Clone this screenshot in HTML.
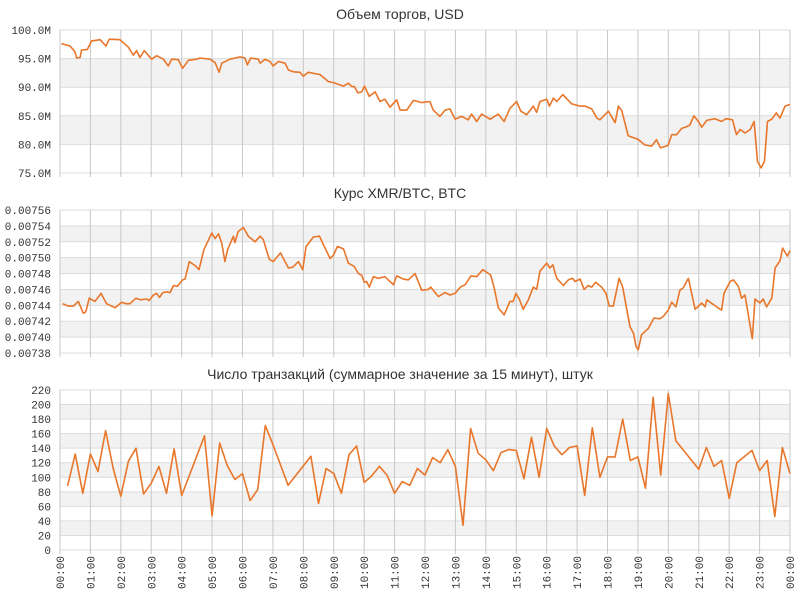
<!DOCTYPE html>
<html><head><meta charset="utf-8">
<style>
body{margin:0;background:#fff;}
svg{display:block;font-family:"Liberation Mono","DejaVu Sans Mono",monospace;}
.t{font-family:"Liberation Sans","DejaVu Sans",sans-serif;font-size:14px;fill:#333;}
.yl{font-size:11px;fill:#333;}
</style></head>
<body>
<svg id="c" width="800" height="600"></svg>
<script>
const xTicks=["00:00","01:00","02:00","03:00","04:00","05:00","06:00","07:00","08:00","09:00","10:00","11:00","12:00","13:00","14:00","15:00","16:00","17:00","18:00","19:00","20:00","21:00","22:00","23:00","00:00"];
const volTicks=["75.0M","80.0M","85.0M","90.0M","95.0M","100.0M"];
const volHours=[0.05,0.33,0.49,0.55,0.66,0.71,0.9,1.04,1.32,1.51,1.62,1.97,2.25,2.41,2.52,2.63,2.77,3.01,3.18,3.40,3.56,3.67,3.89,4.03,4.22,4.49,4.60,4.93,5.10,5.23,5.32,5.59,5.92,6.08,6.16,6.27,6.52,6.58,6.74,6.90,7.01,7.18,7.40,7.51,7.67,7.89,8.00,8.16,8.55,8.82,8.99,9.32,9.48,9.59,9.68,9.79,9.92,10.01,10.17,10.36,10.52,10.68,10.85,11.07,11.18,11.40,11.62,11.89,12.16,12.27,12.49,12.66,12.82,12.99,13.20,13.42,13.53,13.70,13.86,14.14,14.41,14.60,14.79,15.01,15.15,15.34,15.56,15.67,15.78,16.00,16.09,16.22,16.33,16.53,16.82,17.10,17.26,17.48,17.65,17.75,18.03,18.25,18.36,18.47,18.68,19.0,19.23,19.45,19.61,19.74,19.99,20.11,20.27,20.44,20.60,20.71,20.84,20.99,21.10,21.26,21.53,21.75,21.89,22.11,22.24,22.36,22.52,22.69,22.82,22.93,23.05,23.16,23.26,23.40,23.55,23.67,23.84,24.0];
const volValues=[97.6,97.2,96.2,95.1,95.2,96.5,96.6,98.1,98.3,97.2,98.4,98.3,97.0,95.6,96.4,95.2,96.4,94.9,95.5,94.9,93.7,94.9,94.8,93.3,94.7,94.9,95.1,94.9,94.3,92.6,94.2,94.9,95.3,95.1,93.9,95.1,94.9,94.2,94.9,94.5,93.7,94.5,94.2,93.0,92.7,92.6,91.9,92.6,92.2,91.0,90.8,90.2,90.7,90.1,90.1,89.0,89.2,90.2,88.4,89.2,87.5,87.9,86.5,87.8,86.0,86.0,87.7,87.3,87.5,86.0,84.9,86.0,86.2,84.4,84.9,84.3,85.3,84.0,85.3,84.4,85.3,84.0,86.3,87.5,85.8,85.2,86.7,85.6,87.5,87.9,86.7,88.1,87.5,88.7,87.1,86.7,86.7,86.2,84.6,84.3,85.8,83.8,86.7,85.9,81.5,80.9,79.9,79.7,80.8,79.4,79.8,81.7,81.7,82.8,83.1,83.4,85.0,84.0,83.0,84.2,84.5,84.0,84.5,84.3,81.7,82.6,82.0,82.6,84.0,77.0,75.9,77.0,84.0,84.4,85.5,84.6,86.7,87.0];
const rateTicks=["0.00738","0.00740","0.00742","0.00744","0.00746","0.00748","0.00750","0.00752","0.00754","0.00756"];
const rateHours=[0.09,0.27,0.44,0.60,0.77,0.85,0.96,1.15,1.35,1.53,1.70,1.81,2.03,2.17,2.30,2.50,2.63,2.85,2.93,3.07,3.18,3.27,3.38,3.51,3.62,3.73,3.86,4.03,4.11,4.25,4.44,4.57,4.73,4.99,5.10,5.21,5.32,5.42,5.51,5.70,5.75,5.86,6.03,6.19,6.41,6.58,6.68,6.88,7.01,7.25,7.51,7.65,7.84,7.98,8.09,8.33,8.53,8.64,8.88,8.99,9.12,9.32,9.48,9.67,9.81,9.92,10.0,10.08,10.17,10.30,10.47,10.68,10.96,11.07,11.29,11.45,11.67,11.89,12.11,12.19,12.44,12.66,12.82,12.99,13.16,13.32,13.51,13.70,13.90,14.16,14.27,14.41,14.60,14.79,14.90,14.99,15.10,15.23,15.40,15.56,15.67,15.78,16.00,16.11,16.20,16.33,16.55,16.71,16.85,16.93,17.10,17.23,17.37,17.48,17.61,17.81,17.95,18.06,18.19,18.38,18.50,18.74,18.85,18.94,19.01,19.12,19.34,19.53,19.72,19.83,20.00,20.11,20.25,20.38,20.49,20.66,20.88,21.10,21.21,21.26,21.48,21.59,21.75,21.83,22.03,22.14,22.30,22.41,22.52,22.76,22.85,23.01,23.12,23.23,23.40,23.51,23.67,23.76,23.91,24.0];
const rateValues=[744.2,743.9,743.9,744.5,743.0,743.2,744.9,744.5,745.5,744.2,743.9,743.7,744.4,744.2,744.2,744.9,744.7,744.8,744.6,745.3,745.5,745.0,745.6,745.7,745.6,746.5,746.4,747.2,747.3,749.5,749.0,748.5,751.0,753.1,752.4,753.0,751.8,749.5,751.0,752.7,751.9,753.3,753.8,752.7,752.0,752.7,752.3,749.8,749.5,750.6,748.7,748.8,749.5,748.5,751.4,752.6,752.7,751.8,749.9,750.3,751.4,751.1,749.3,748.9,748.0,747.8,746.9,747.0,746.3,747.6,747.4,747.6,746.6,747.7,747.3,747.2,748.0,745.9,746.0,746.3,745.1,745.6,745.3,745.5,746.3,746.6,747.7,747.6,748.5,747.8,746.3,743.7,742.8,744.5,744.5,745.5,744.8,743.5,744.7,746.3,746.0,748.3,749.3,748.7,749.1,747.4,746.5,747.2,747.4,747.0,747.3,746.0,746.5,746.3,746.9,746.3,745.5,743.9,743.9,747.4,746.3,741.3,740.5,738.8,738.4,740.3,741.1,742.4,742.3,742.6,743.4,744.4,743.8,745.9,746.2,747.4,743.5,744.3,743.8,744.7,744.1,743.8,743.4,745.5,747.0,747.2,746.4,744.9,745.3,739.8,744.8,744.3,744.8,743.8,744.9,748.7,749.6,751.2,750.2,750.9];
const txTicks=["0","20","40","60","80","100","120","140","160","180","200","220"];
const txHours=[0.25,0.5,0.75,1.0,1.25,1.5,1.75,2.0,2.25,2.5,2.75,3.0,3.25,3.5,3.75,4.0,4.75,5.0,5.25,5.5,5.75,6.0,6.25,6.5,6.75,7.0,7.5,8.25,8.5,8.75,9.0,9.25,9.5,9.75,10.0,10.25,10.5,10.75,11.0,11.25,11.5,11.75,12.0,12.25,12.5,12.75,13.0,13.25,13.5,13.75,14.0,14.25,14.5,14.75,15.0,15.25,15.5,15.75,16.0,16.25,16.5,16.75,17.0,17.25,17.5,17.75,18.0,18.25,18.5,18.75,19.0,19.25,19.5,19.75,20.0,20.25,21.0,21.25,21.5,21.75,22.0,22.25,22.75,23.0,23.25,23.5,23.75,24.0];
const txValues=[88,132,78,132,108,164,112,74,122,140,77,92,115,78,139,75,157,47,147,116,97,105,68,83,171,145,89,129,64,112,105,78,131,143,93,102,115,103,78,94,89,112,103,127,120,138,115,34,167,133,124,109,134,138,137,98,155,100,167,143,131,141,143,75,168,100,128,128,180,123,128,85,210,103,215,150,111,141,115,123,71,120,137,109,123,46,141,105];

const NS="http://www.w3.org/2000/svg";
const svg=document.getElementById('c');
const X0=60,X1=790;
function xScale(h){return X0+(X1-X0)*h/24;}
function mk(tag,attrs,parent){const e=document.createElementNS(NS,tag);for(const k in attrs)e.setAttribute(k,attrs[k]);(parent||svg).appendChild(e);return e;}

function panel(name,title,titleY,top,bottom,ticks,tickVals,hours,values){
  const g=mk('g',{});
  
  
  const yMin=tickVals[0],yMax=tickVals[tickVals.length-1];
  const yScale=v=>bottom-(v-yMin)/(yMax-yMin)*(bottom-top);
  const t=mk('text',{x:400,y:titleY,'text-anchor':'middle','class':'t'},g);
  t.textContent=title;
  
  
  // bands
  for(let i=0;i<tickVals.length-1;i++){
    const fromTop=tickVals.length-2-i;
    if(fromTop%2===1){
      const r=mk('rect',{x:X0,y:yScale(tickVals[i+1]),width:X1-X0,height:yScale(tickVals[i])-yScale(tickVals[i+1]),fill:'#f2f2f2'},g);
      
      
    }
  }
  for(let i=0;i<tickVals.length;i++){
    const y=yScale(tickVals[i]);
    mk('line',{x1:X0,x2:X1,y1:y,y2:y,stroke:'#dcdcdc','stroke-width':1},g);
    const l=mk('text',{x:51,y:y+4,'text-anchor':'end','class':'yl'},g);
    l.textContent=ticks[i];
    
    
  }
  for(let h=0;h<=24;h++){
    const x=xScale(h);
    mk('line',{x1:x,x2:x,y1:top,y2:bottom+4,stroke:'#c8c8c8','stroke-width':1},g);
  }
  let d='';
  for(let i=0;i<hours.length;i++){d+=(i?'L':'M')+xScale(hours[i]).toFixed(1)+','+yScale(values[i]).toFixed(1);}
  const p=mk('path',{d:d,fill:'none',stroke:'#e8762b','stroke-width':1.6,'stroke-linejoin':'round'},g);
  
  
}
panel('volume','Объем торгов, USD',19,30,173,volTicks,[75,80,85,90,95,100],volHours,volValues);
panel('rate','Курс XMR/BTC, BTC',198,210,353,rateTicks,rateTicks.map(s=>Math.round(parseFloat(s)*100000)),rateHours,rateValues);
panel('transactions','Число транзакций (суммарное значение за 15 минут), штук',379,390,550,txTicks,txTicks.map(Number),txHours,txValues);
for(let h=0;h<xTicks.length;h++){
  const x=xScale(h)+4;
  const l=mk('text',{x:0,y:0,'text-anchor':'end','class':'yl',transform:'translate('+x+',556) rotate(-90)'});
  l.textContent=xTicks[h];
  
  
}
</script>
</body></html>
